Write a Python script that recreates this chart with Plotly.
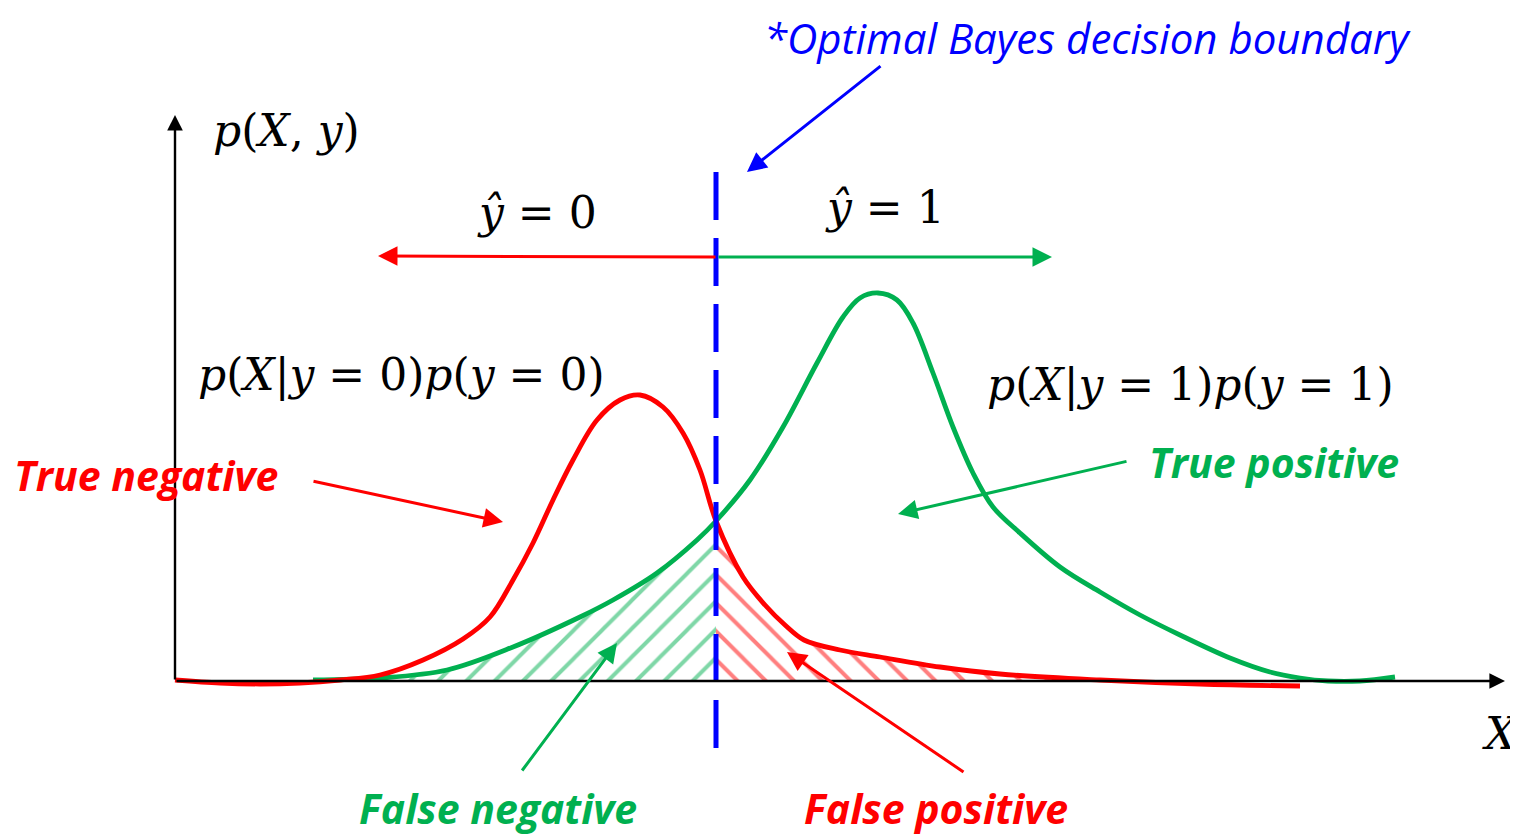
import plotly.graph_objects as go

# ---- data (x position, height above the X axis) ----
red_x = [175, 220, 260, 300, 340, 380, 423, 463, 490, 513, 533, 553, 573, 597, 620, 640, 663, 683, 700, 716,
         743, 765, 785, 804, 840, 880, 940, 1000, 1100, 1200, 1300]
red_h = [1, -2, -3, -2, 1, 6, 21, 42, 64, 101, 138, 181, 221, 261, 281, 286, 274, 248, 211, 160,
         104, 76, 56, 41, 31, 24, 14, 7, 1, -3, -5]

green_x = [313, 380, 447, 513, 580, 613, 657, 697, 716, 750, 783, 817, 843, 860, 878, 897, 913, 933, 953, 973,
           993, 1020, 1060, 1100, 1140, 1180, 1230, 1270, 1300, 1328, 1360, 1395]
green_h = [1, 3, 11, 34, 64, 81, 108, 141, 160, 201, 254, 318, 364, 383, 388, 381, 358, 308, 254, 208,
           174, 148, 114, 89, 66, 46, 23, 9, 3, 0, 0, 4]

boundary_x = 716

RED = "#FF0000"
GREEN = "#00B050"
BLUE = "#0000FF"

fig = go.Figure()

# hatched error regions
fn_x = [x for x in green_x if x <= boundary_x]
fn_h = green_h[:len(fn_x)]
fp_x = [x for x in red_x if boundary_x <= x <= 1100]
fp_h = [h for x, h in zip(red_x, red_h) if boundary_x <= x <= 1100]

fig.add_trace(go.Scatter(x=fn_x, y=fn_h, mode="lines", line=dict(width=0, shape="spline"),
                         fill="tozeroy", fillcolor="rgba(0,0,0,0)",
                         fillpattern=dict(shape="/", fgcolor=GREEN, bgcolor="rgba(0,0,0,0)",
                                          size=20, solidity=0.2, fillmode="overlay"),
                         hoverinfo="skip", showlegend=False))
fig.add_trace(go.Scatter(x=fp_x, y=fp_h, mode="lines", line=dict(width=0, shape="spline"),
                         fill="tozeroy", fillcolor="rgba(0,0,0,0)",
                         fillpattern=dict(shape="\\", fgcolor=RED, bgcolor="rgba(0,0,0,0)",
                                          size=20, solidity=0.2, fillmode="overlay"),
                         hoverinfo="skip", showlegend=False))

# curves
fig.add_trace(go.Scatter(x=green_x, y=green_h, mode="lines", line=dict(color=GREEN, width=4.8, shape="spline"),
                         hoverinfo="skip", showlegend=False))
fig.add_trace(go.Scatter(x=red_x, y=red_h, mode="lines", line=dict(color=RED, width=4.8, shape="spline"),
                         hoverinfo="skip", showlegend=False))

# decision boundary
fig.add_trace(go.Scatter(x=[boundary_x, boundary_x], y=[-67, 516], mode="lines",
                         line=dict(color=BLUE, width=5, dash="48px,18px"),
                         hoverinfo="skip", showlegend=False))

annotations = []
# axes (drawn as arrows)
axis_ann = [
    dict(x=1505, y=0, ax=175, ay=0),
    dict(x=175, y=566, ax=175, ay=0),
]
for a in axis_ann:
    annotations.append(dict(text="", showarrow=True, xref="x", yref="y", axref="x", ayref="y",
                            arrowhead=2, arrowsize=1.3, arrowwidth=2.4, arrowcolor="black", standoff=0, **a))

arrows = [
    (378, 425, 717, 424, RED),
    (1052, 424, 717, 424, GREEN),
    (747, 509, 882, 616, BLUE),
    (503, 159, 312, 200, RED),
    (898, 167, 1128, 220, GREEN),
    (617, 38, 521, -91, GREEN),
    (787, 29, 965, -92, RED),
]
for hx, hy, tx, ty, c in arrows:
    annotations.append(dict(text="", showarrow=True, xref="x", yref="y", axref="x", ayref="y",
                            x=hx, y=hy, ax=tx, ay=ty, arrowhead=2, arrowsize=1.3, arrowwidth=3,
                            arrowcolor=c, standoff=0))

MATH = "DejaVu Serif"
math_texts = [
    ("<i>p</i>(<i>X</i>, <i>y</i>)", 211, 551),
    ("<i>ŷ</i> = 0", 475, 469),
    ("<i>ŷ</i> = 1", 823, 474),
    ("<i>p</i>(<i>X</i>|<i>y</i> = 0)<i>p</i>(<i>y</i> = 0)", 196, 306),
    ("<i>p</i>(<i>X</i>|<i>y</i> = 1)<i>p</i>(<i>y</i> = 1)", 985, 296),
    ("<i>X</i>", 1480, -52),
]
for t, x, y in math_texts:
    annotations.append(dict(text=t, x=x, y=y, xref="x", yref="y", xanchor="left", yanchor="middle",
                            showarrow=False, font=dict(family=MATH, size=44, color="black")))

# page body offset (8px) and visible region
OFF = 8
Y_TOP = 681 - OFF
Y_BOT = 681 - 837

LBL = "Open Sans"
labels = [
    ("<b><i>True negative</i></b>", 13, 206, "middle", RED),
    ("<b><i>True positive</i></b>", 1148, 219, "middle", GREEN),
    ("<b><i>False negative</i></b>", 358, Y_BOT, "bottom", GREEN),
    ("<b><i>False positive</i></b>", 803, Y_BOT, "bottom", RED),
]
for t, x, y, ya, c in labels:
    annotations.append(dict(text=t, x=x, y=y, xref="x", yref="y", xanchor="left", yanchor=ya,
                            showarrow=False, borderpad=0, font=dict(family=LBL, size=41, color=c)))

annotations.append(dict(text="<i>*Optimal Bayes decision boundary</i>", x=763, y=Y_TOP, xref="x", yref="y",
                        xanchor="left", yanchor="top", showarrow=False, borderpad=0,
                        font=dict(family=LBL, size=42, color=BLUE)))

fig.update_layout(
    width=1518 - OFF, height=837 - OFF,
    margin=dict(l=0, r=0, t=0, b=0),
    paper_bgcolor="white", plot_bgcolor="white",
    xaxis=dict(range=[OFF, 1518], visible=False, fixedrange=True),
    yaxis=dict(range=[Y_BOT, Y_TOP], visible=False, fixedrange=True),
    annotations=annotations,
    showlegend=False,
)

fig.write_html("out.html")
